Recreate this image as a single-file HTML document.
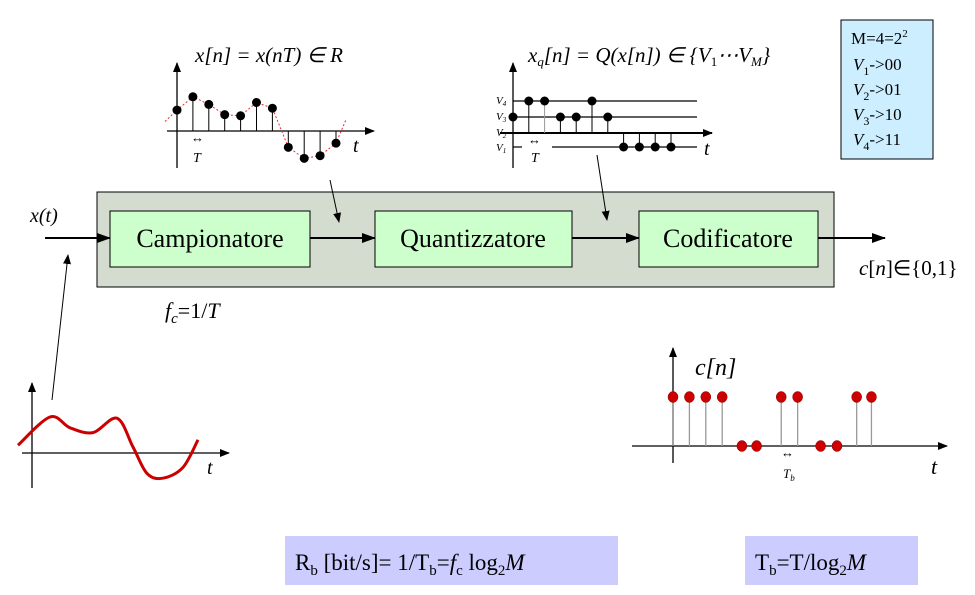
<!DOCTYPE html>
<html><head><meta charset="utf-8"><style>
body{margin:0;background:#fff;width:975px;height:595px;overflow:hidden}
svg{display:block;font-family:"Liberation Serif",serif}
</style></head><body>
<svg id="s" width="975" height="595" viewBox="0 0 975 595">
<defs><marker id="ah" markerWidth="10" markerHeight="8" refX="9" refY="4" orient="auto" markerUnits="userSpaceOnUse"><path d="M0,0L10,4L0,8z" fill="#000"/></marker>
<marker id="ah2" markerWidth="14" markerHeight="10" refX="13" refY="5" orient="auto" markerUnits="userSpaceOnUse"><path d="M0,0L14,5L0,10z" fill="#000"/></marker></defs>
<rect x="97" y="192" width="737" height="95" fill="#d3dccf" stroke="#000" stroke-width="1"/>
<line x1="45" y1="238" x2="110" y2="238" stroke="#000" stroke-width="2" marker-end="url(#ah2)"/>
<line x1="310" y1="238" x2="375" y2="238" stroke="#000" stroke-width="2" marker-end="url(#ah2)"/>
<line x1="572" y1="238" x2="639" y2="238" stroke="#000" stroke-width="2" marker-end="url(#ah2)"/>
<line x1="818" y1="238" x2="885" y2="238" stroke="#000" stroke-width="2" marker-end="url(#ah2)"/>
<g><rect x="110" y="211" width="200" height="56" fill="#ccffcc" stroke="#000"/><text x="210" y="247" font-size="26" text-anchor="middle">Campionatore</text></g>
<g><rect x="375" y="211" width="197" height="56" fill="#ccffcc" stroke="#000"/><text x="473" y="247" font-size="26" text-anchor="middle">Quantizzatore</text></g>
<g><rect x="639" y="211" width="179" height="56" fill="#ccffcc" stroke="#000"/><text x="728" y="247" font-size="26" text-anchor="middle">Codificatore</text></g>
<text x="30" y="222" font-size="20" font-style="italic">x(t)</text>
<text x="859" y="275" font-size="21"><tspan font-style="italic">c</tspan>[<tspan font-style="italic">n</tspan>]∈{0,1}</text>
<text x="165" y="318" font-size="22"><tspan font-style="italic">f</tspan><tspan font-style="italic" font-size="15" dy="5">c</tspan><tspan dy="-5">=1/</tspan><tspan font-style="italic">T</tspan></text>
<line x1="330" y1="180" x2="339" y2="222" stroke="#000" stroke-width="1" marker-end="url(#ah)"/>
<line x1="597" y1="155" x2="607" y2="220" stroke="#000" stroke-width="1" marker-end="url(#ah)"/>
<line x1="52" y1="400" x2="68" y2="255" stroke="#000" stroke-width="1" marker-end="url(#ah)"/>
<g><rect x="841" y="20" width="92" height="139" fill="#cceeff" stroke="#000"/>
<text x="851" y="44" font-size="17">M=4=2<tspan font-size="11" dy="-7">2</tspan></text>
<text x="853" y="70" font-size="17"><tspan font-style="italic">V</tspan><tspan font-size="12" dy="5">1</tspan><tspan dy="-5">-&gt;00</tspan></text>
<text x="853" y="95" font-size="17"><tspan font-style="italic">V</tspan><tspan font-size="12" dy="5">2</tspan><tspan dy="-5">-&gt;01</tspan></text>
<text x="853" y="120" font-size="17"><tspan font-style="italic">V</tspan><tspan font-size="12" dy="5">3</tspan><tspan dy="-5">-&gt;10</tspan></text>
<text x="853" y="145" font-size="17"><tspan font-style="italic">V</tspan><tspan font-size="12" dy="5">4</tspan><tspan dy="-5">-&gt;11</tspan></text></g>
<!-- sampled plot -->
<text x="195" y="62" font-size="21" font-style="italic">x[n] = x(nT) ∈ R</text>
<line x1="177" y1="168" x2="177" y2="63" stroke="#000" stroke-width="1.3" marker-end="url(#ah)"/>
<line x1="167" y1="131" x2="374" y2="131" stroke="#000" stroke-width="1.3" marker-end="url(#ah)"/>
<text x="353" y="152" font-size="20" font-style="italic">t</text>
<text x="193" y="162" font-size="14" font-style="italic">T</text>
<text x="191" y="142" font-size="13">↔</text>
<g id="g1"></g>
<!-- quantized plot -->
<text x="528" y="62" font-size="21" font-style="italic">x<tspan font-size="13" dy="4">q</tspan><tspan dy="-4">[n] = Q(x[n]) ∈ {V</tspan><tspan font-size="13" dy="4" font-style="normal">1</tspan><tspan dy="-4">⋯V</tspan><tspan font-size="13" dy="4">M</tspan><tspan dy="-4">}</tspan></text>
<line x1="513" y1="168" x2="513" y2="63" stroke="#000" stroke-width="1.3" marker-end="url(#ah)"/>
<line x1="513" y1="101" x2="697" y2="101" stroke="#000" stroke-width="1.2"/>
<line x1="513" y1="117" x2="697" y2="117" stroke="#000" stroke-width="1.2"/>
<line x1="500" y1="133" x2="712" y2="133" stroke="#000" stroke-width="2" marker-end="url(#ah)"/>
<line x1="513" y1="147" x2="522" y2="147" stroke="#000" stroke-width="1.2"/>
<line x1="552" y1="147" x2="697" y2="147" stroke="#000" stroke-width="1.2"/>
<g font-size="11" font-style="italic"><text x="496" y="104">V<tspan font-size="7" dy="2">4</tspan></text><text x="496" y="120">V<tspan font-size="7" dy="2">3</tspan></text><text x="496" y="136">V<tspan font-size="7" dy="2">2</tspan></text><text x="496" y="151">V<tspan font-size="7" dy="2">1</tspan></text></g>
<text x="704" y="155" font-size="20" font-style="italic">t</text>
<text x="531" y="162" font-size="14" font-style="italic">T</text>
<text x="528" y="144" font-size="13">↔</text>
<g id="g2"></g>
<!-- code plot -->
<text x="695" y="375" font-size="24" font-style="italic">c[n]</text>
<line x1="673" y1="463" x2="673" y2="348" stroke="#000" stroke-width="1.3" marker-end="url(#ah)"/>
<line x1="632" y1="446" x2="947" y2="446" stroke="#000" stroke-width="1.3" marker-end="url(#ah)"/>
<text x="931" y="474" font-size="22" font-style="italic">t</text>
<text x="781" y="457" font-size="13">↔</text>
<text x="783" y="478" font-size="13" font-style="italic">T<tspan font-size="9" dy="3">b</tspan></text>
<g id="g3"></g>
<!-- continuous -->
<line x1="32" y1="488" x2="32" y2="383" stroke="#000" stroke-width="1.3" marker-end="url(#ah)"/>
<line x1="22" y1="453" x2="229" y2="453" stroke="#000" stroke-width="1.3" marker-end="url(#ah)"/>
<text x="207" y="474" font-size="20" font-style="italic">t</text>
<g id="g4"></g>
<g><rect x="285" y="536" width="333" height="49" fill="#ccccff"/><text x="295" y="570" font-size="23">R<tspan font-size="15" dy="5">b</tspan><tspan dy="-5"> [bit/s]= 1/T</tspan><tspan font-size="15" dy="5">b</tspan><tspan dy="-5">=</tspan><tspan font-style="italic">f</tspan><tspan font-size="15" dy="5">c</tspan><tspan dy="-5"> log</tspan><tspan font-size="15" dy="5">2</tspan><tspan dy="-5" font-style="italic">M</tspan></text></g>
<g><rect x="745" y="536" width="173" height="49" fill="#ccccff"/><text x="755" y="570" font-size="23">T<tspan font-size="15" dy="5">b</tspan><tspan dy="-5">=T/log</tspan><tspan font-size="15" dy="5">2</tspan><tspan dy="-5" font-style="italic">M</tspan></text></g>
</svg>
<script>
const sampledValues=[0.55,0.9,0.7,0.43,0.4,0.75,0.6,-0.43,-0.72,-0.65,-0.32];
const quantLevels=[3,4,4,3,3,4,3,1,1,1,1];
const codeBits=[1,1,1,1,0,0,1,1,0,0,1,1];
const codeX=[0,1,2,3,4.2,5.1,6.6,7.6,9,10,11.2,12.1];
const contT=[-0.14,0.18,0.38,0.61,0.85,1.01,1.15,1.31,1.51,1.66];
const contV=[0.13,0.6,0.42,0.34,0.58,0.1,-0.34,-0.42,-0.24,0.22];
const NS='http://www.w3.org/2000/svg';
function mk(p,t,a){const e=document.createElementNS(NS,t);for(const k in a)e.setAttribute(k,a[k]);p.appendChild(e);return e;}
// plot 1
const x1=i=>177+i*15.9, y1=v=>131-v*38;
const g1=document.getElementById('g1');
let d='M165,'+y1(0.25);sampledValues.forEach((v,i)=>d+=' L'+x1(i)+','+y1(v));d+=' L346,'+y1(0.3);
const env=mk(g1,'path',{d:d,fill:'none',stroke:'#e03030','stroke-width':1,'stroke-dasharray':'2,2'});


sampledValues.forEach((v,i)=>{
 const l=mk(g1,'line',{x1:x1(i),y1:131,x2:x1(i),y2:y1(v),stroke:'#000','stroke-width':1});
 
 
 const c=mk(g1,'circle',{cx:x1(i),cy:y1(v),r:4.5,fill:'#000'});
 
 
});
// plot 2
const levelY=[0,147,133,117,101];
const x2=i=>513+i*15.8;
const g2=document.getElementById('g2');
quantLevels.forEach((q,i)=>{
 const l=mk(g2,'line',{x1:x2(i),y1:133,x2:x2(i),y2:levelY[q],stroke:i==2?'#999':'#000','stroke-width':1});
 
 
 const c=mk(g2,'circle',{cx:x2(i),cy:levelY[q],r:4.5,fill:'#000'});
 
 
});
// plot 3
const x3=i=>673+i*16.4, y3=b=>446-b*49;
const g3=document.getElementById('g3');
codeBits.forEach((b,i)=>{
 if(b){const l=mk(g3,'line',{x1:x3(codeX[i]),y1:446,x2:x3(codeX[i]),y2:y3(b),stroke:'#999','stroke-width':1.3});
 
 }
 const c=mk(g3,'ellipse',{cx:x3(codeX[i]),cy:y3(b),rx:5,ry:5.5,fill:'#cc0000',stroke:'#800',"stroke-width":0.5});
 
 
});
// continuous (Catmull-Rom)
const x4=t=>32+t*100, y4=v=>453-v*60;
const g4=document.getElementById('g4');
const P=contT.map((t,i)=>[x4(t),y4(contV[i])]);
let p='M'+P[0][0]+','+P[0][1];
for(let i=0;i<P.length-1;i++){
 const p0=P[Math.max(0,i-1)],p1=P[i],p2=P[i+1],p3=P[Math.min(P.length-1,i+2)];
 const c1=[p1[0]+(p2[0]-p0[0])/6,p1[1]+(p2[1]-p0[1])/6],c2=[p2[0]-(p3[0]-p1[0])/6,p2[1]-(p3[1]-p1[1])/6];
 p+=' C'+c1[0]+','+c1[1]+' '+c2[0]+','+c2[1]+' '+p2[0]+','+p2[1];
}
const cp=mk(g4,'path',{d:p,fill:'none',stroke:'#cc0000','stroke-width':3});


</script>
</body></html>
